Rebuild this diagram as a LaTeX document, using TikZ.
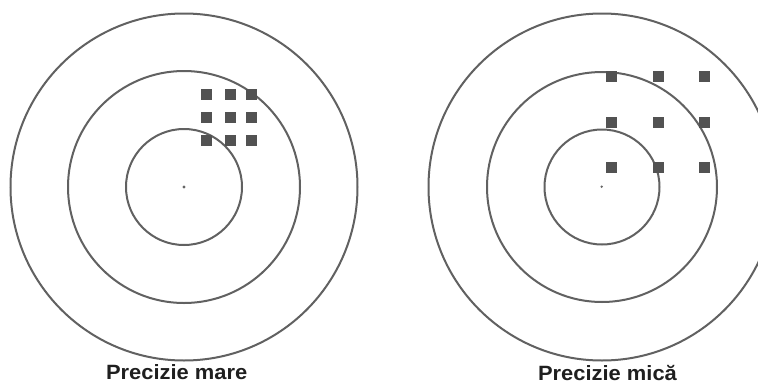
\documentclass[tikz,border=0pt]{standalone}
\usepackage{fontspec}
\setmainfont{Liberation Sans}
\newfontfamily\capfont[FakeStretch=1.06]{Liberation Sans}
\begin{document}
\begin{tikzpicture}[x=0.75pt,y=-0.75pt,
  ring/.style={draw=black!62,line width=1.5pt},
  hit/.style={fill=black!68,draw=none},
  centre/.style={fill=black!60,draw=none},
  caption/.style={font=\capfont\bfseries\fontsize{15.5}{18}\selectfont,text=black!88,anchor=base,inner sep=0pt}]
\useasboundingbox (0,0) rectangle (758,383);
\clip (0,0) rectangle (758,383);
\fill[white] (0,0) rectangle (758,383);
% left target
\foreach \r in {173.5,116,58}{\draw[ring] (184,187) circle[radius=\r];}
\fill[centre] (184,187) circle[radius=1.6];
\foreach \cx in {206.5,230.5,251.5}{
  \foreach \cy in {94,117,140}{
    \fill[hit] (\cx-5.5,\cy-5.5) rectangle (\cx+5.5,\cy+5.5);}}
\node[caption] (capL) at (176.7,379) {Precizie mare};
% right target
\foreach \r in {173.5,115,57.5}{\draw[ring] (602,187) circle[radius=\r];}
\fill[centre] (601.7,186.7) circle[radius=1.3];
\foreach \cx in {611,658,704.5}{
  \foreach \cy in {76,122,167.5}{
    \fill[hit] (\cx-5.5,\cy-5.5) rectangle (\cx+5.5,\cy+5.5);}}
\node[caption] (capR) at (607.5,380.5) {Precizie mică};
\end{tikzpicture}
\end{document}
